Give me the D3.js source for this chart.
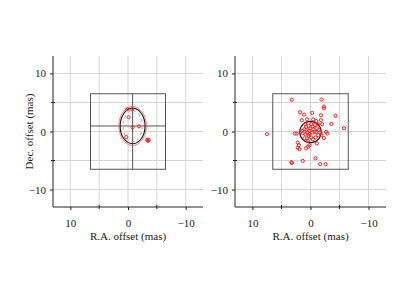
<!DOCTYPE html>
<html>
<head>
<meta charset="utf-8">
<script src="https://cdn.jsdelivr.net/npm/d3@7"></script>
<style>
  body { margin: 0; background: #fff; }
  svg { display: block; }
  text { font-family: "Liberation Serif", "DejaVu Serif", serif; fill: #222; }
</style>
</head>
<body>
<svg id="chart"></svg>
<script>
// data (mas offsets)
const majorTicks = [10, 0, -10];
const minorTicks = [5, -5];
const gridValues = [10, 5, 0, -5, -10];
const boxHalf = 6.5;

// left panel
const leftRa = [0.1, -0.75, -0.1, -0.8, -1.9, 0.3];
const leftDec = [3.85, 3.85, 2.45, 0.7, 0.9, -0.95];
const leftFilled = [[-3.46, -1.5]];
const leftCenter = [-0.8, 0.95];
// [rx, ry] in mas
const blackEllipse = [2.16, 3.05];
const redEllipse = [2.4, 3.35];
const dashEllipse = [1.64, 2.67];

// right panel
const rightRa = [3.23, -1.9, -2.3, -2.3, 1.8, 1.1, -0.3, -1.8, -4.3, 1.5, 0.6, -0.46, -1.0, -1.8,
  -2.0, -3.6, -5.77, 7.5, 2.7, 2.36, -2.7, -2.9, -2.3, -1.1, 2.2, 2.0, 2.2, 1.9, 0.75, 0.4, 0.17,
  3.3, 3.2, 1.33, -0.86, -1.67, -2.6,
  1.04, 0.75, 0.35, -0.12, -0.4, -0.75, -1.1, -1.44, -1.73, -1.9, -1.33, -0.7, -0.3, 0.17, 0.52,
  0.87, 1.33, 1.5, 0.29, -0.12, 0.58, 1.04, -0.4, -0.87, 0.06, -0.52, -1.0, 0.92, -1.27, 0.17, 0.75, 0.46];
const rightDec = [5.46, 5.5, 4.3, 4.0, 3.3, 2.9, 3.2, 2.8, 2.7, 1.95, 2.1, 2.07, 1.8, 1.95,
  1.26, 1.3, 0.57, -0.46, -0.35, -0.35, -0.06, -0.35, -1.15, -2.07, -1.9, -2.36, -2.8, -3.05, -2.9, -2.6, -2.36,
  -5.3, -5.4, -5.06, -4.6, -5.63, -5.63,
  0.4, 0.8, 0.98, 1.26, 0.86, 1.1, 0.52, 0.29, -0.17, -0.63, -0.63, -0.06, -0.17, 0.11, -0.17,
  -0.46, -0.29, 0.11, -0.75, -1.03, -1.2, -1.15, -1.32, -1.03, 0.52, 0.4, -0.06, 1.26, 1.26, -0.46, 0.29, -1.6];
const rightCenter = [0, -0.1];
const rightCircle = 1.85;

const width = 415, height = 294;
const svg = d3.select('#chart').attr('width', width).attr('height', height);

function panel(x0, x1, y0, y1, showYLabel) {
  const g = svg.append('g');
  const x = d3.scaleLinear().domain([13, -13]).range([x0, x1]);
  const y = d3.scaleLinear().domain([-13, 13]).range([y1, y0]);

  // grid
  g.selectAll('line.gx').data(gridValues).enter().append('line')
    .attr('x1', d => x(d)).attr('x2', d => x(d)).attr('y1', y0).attr('y2', y1)
    .attr('stroke', '#d4d4d4').attr('stroke-width', 1);
  g.selectAll('line.gy').data(gridValues).enter().append('line')
    .attr('x1', x0).attr('x2', x1).attr('y1', d => y(d)).attr('y2', d => y(d))
    .attr('stroke', '#d4d4d4').attr('stroke-width', 1);

  // box
  g.append('rect')
    .attr('x', x(boxHalf)).attr('y', y(boxHalf))
    .attr('width', x(-boxHalf) - x(boxHalf)).attr('height', y(-boxHalf) - y(boxHalf))
    .attr('fill', 'none').attr('stroke', '#555').attr('stroke-width', 1);

  // axes
  const bottom = d3.axisBottom(x).tickValues(majorTicks).tickSize(3)
    .tickFormat(d => d < 0 ? '\u2212' + Math.abs(d) : d);
  const left = d3.axisLeft(y).tickValues(majorTicks).tickSize(3)
    .tickFormat(d => d < 0 ? '\u2212' + Math.abs(d) : d);
  const bx = g.append('g').attr('transform', `translate(0,${y1})`).call(bottom);
  const lx = g.append('g').attr('transform', `translate(${x0},0)`).call(left);
  [bx, lx].forEach(a => {
    a.select('.domain').remove();
    a.selectAll('text').attr('font-family', '"Liberation Serif", serif').attr('font-size', 11).attr('fill', '#222');
    a.selectAll('line').attr('stroke', '#222');
  });
  bx.selectAll('text').attr('dy', '1.25em');
  lx.selectAll('text').attr('dx', '-0.1em');
  g.append('line').attr('x1', x0).attr('x2', x1).attr('y1', y1).attr('y2', y1).attr('stroke', '#222');
  g.append('line').attr('x1', x0).attr('x2', x0).attr('y1', y0).attr('y2', y1).attr('stroke', '#222');
  g.selectAll('line.mx').data(minorTicks).enter().append('line')
    .attr('x1', d => x(d)).attr('x2', d => x(d)).attr('y1', y1 - 2).attr('y2', y1 + 2).attr('stroke', '#222');
  g.selectAll('line.my').data(minorTicks).enter().append('line')
    .attr('x1', x0 - 2).attr('x2', x0 + 2).attr('y1', d => y(d)).attr('y2', d => y(d)).attr('stroke', '#222');

  g.append('text').attr('x', (x0 + x1) / 2).attr('y', y1 + 33)
    .attr('text-anchor', 'middle').attr('font-size', 11).text('R.A. offset (mas)');
  if (showYLabel) {
    g.append('text').attr('transform', `translate(${x0 - 20},${(y0 + y1) / 2}) rotate(-90)`)
      .attr('text-anchor', 'middle').attr('font-size', 11).text('Dec. offset (mas)');
  }
  return { g, x, y };
}

// left panel
const p1 = panel(53, 203, 56, 207, true);
const [cx1, cy1] = leftCenter;
p1.g.append('line').attr('x1', p1.x(boxHalf)).attr('x2', p1.x(-boxHalf))
  .attr('y1', p1.y(cy1)).attr('y2', p1.y(cy1)).attr('stroke', '#555');
p1.g.append('line').attr('x1', p1.x(cx1)).attr('x2', p1.x(cx1))
  .attr('y1', p1.y(boxHalf)).attr('y2', p1.y(-boxHalf)).attr('stroke', '#555');
function ellipse(p, c, r, stroke, dash, sw) {
  p.g.append('ellipse')
    .attr('cx', p.x(c[0])).attr('cy', p.y(c[1]))
    .attr('rx', Math.abs(p.x(r[0]) - p.x(0))).attr('ry', Math.abs(p.y(r[1]) - p.y(0)))
    .attr('fill', 'none').attr('stroke', stroke).attr('stroke-width', sw)
    .attr('stroke-dasharray', dash);
}
ellipse(p1, leftCenter, redEllipse, '#ff7070', null, 0.9);
ellipse(p1, leftCenter, dashEllipse, '#aaa', '3,3', 1);
ellipse(p1, leftCenter, blackEllipse, '#111', null, 1.1);
p1.g.selectAll('circle.pt').data(leftRa).enter().append('circle')
  .attr('cx', d => p1.x(d)).attr('cy', (d, i) => p1.y(leftDec[i])).attr('r', 1.6)
  .attr('fill', 'none').attr('stroke', '#f22').attr('stroke-width', 1);
p1.g.selectAll('circle.fp').data(leftFilled).enter().append('circle')
  .attr('cx', d => p1.x(d[0])).attr('cy', d => p1.y(d[1])).attr('r', 2.2)
  .attr('fill', '#f33').attr('stroke', '#f33');

// right panel
const p2 = panel(235, 386, 56, 207, false);
p2.g.append('circle').attr('cx', p2.x(rightCenter[0])).attr('cy', p2.y(rightCenter[1]))
  .attr('r', Math.abs(p2.x(rightCircle) - p2.x(0)))
  .attr('fill', 'none').attr('stroke', '#111').attr('stroke-width', 1.1);
p2.g.selectAll('circle.pt').data(rightRa).enter().append('circle')
  .attr('cx', d => p2.x(d)).attr('cy', (d, i) => p2.y(rightDec[i])).attr('r', 1.6)
  .attr('fill', 'none').attr('stroke', '#f22').attr('stroke-width', 1);
</script>
</body>
</html>
